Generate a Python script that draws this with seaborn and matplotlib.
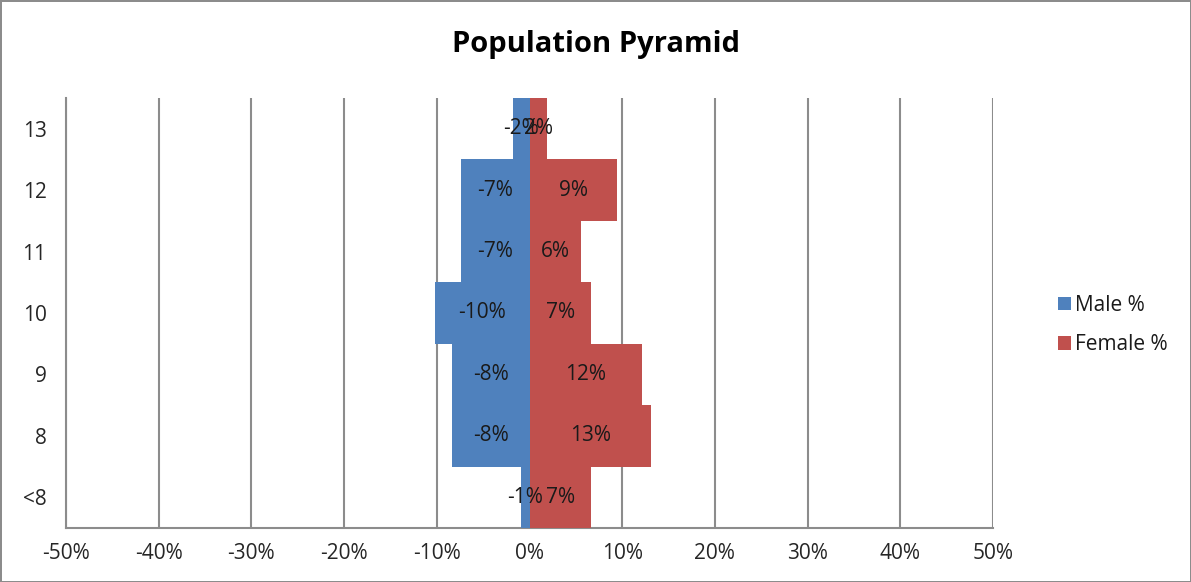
import pandas as pd
import matplotlib.pyplot as plt
import seaborn as sns

# data (percent of population)
grades = ['13', '12', '11', '10', '9', '8', '<8']
male_pct = [-1.8, -7.4, -7.4, -10.2, -8.4, -8.4, -0.9]
female_pct = [1.9, 9.4, 5.6, 6.6, 12.1, 13.1, 6.6]
series = ['Male %', 'Female %']
colors = ['#4F81BD', '#C0504D']
x_ticks = list(range(-50, 51, 10))

df = pd.DataFrame({
    'Grade': grades * 2,
    'Pct': male_pct + female_pct,
    'Series': [series[0]] * len(grades) + [series[1]] * len(grades),
})

sns.set_style('white')
plt.rcParams['font.family'] = ['Open Sans', 'DejaVu Sans']
plt.rcParams['text.color'] = '#1a1a1a'
fs = 15

fig = plt.figure(figsize=(11.91, 5.82), dpi=100, edgecolor='#8c8c8c', linewidth=2)
ax = fig.add_axes([0.0554, 0.0928, 0.7784, 0.7388])

sns.barplot(data=df, y='Grade', x='Pct', hue='Series', order=grades,
            hue_order=series, palette=colors, dodge=False, width=1.0,
            orient='h', saturation=1, linewidth=0, ax=ax, zorder=3)

# value labels in the middle of each bar, like the spreadsheet chart
for cont in ax.containers:
    ax.bar_label(cont, fmt='{:.0f}%', label_type='center', fontsize=fs)

ax.set_xlim(-50, 50)
ax.set_ylim(6.5, -0.5)
ax.set_xticks(x_ticks)
ax.set_xticklabels([f'{t}%' for t in x_ticks])
ax.set_yticks(range(len(grades)))
ax.set_yticklabels(grades)
ax.set_yticks([i - 0.5 for i in range(len(grades) + 1)], minor=True)
ax.tick_params(axis='y', which='major', length=0, pad=14, labelsize=fs)
ax.tick_params(axis='y', which='minor', length=6, width=1.5, color='#8c8c8c', direction='out')
ax.tick_params(axis='x', which='major', length=6, width=1.5, color='#8c8c8c',
               direction='out', labelsize=fs, pad=5)
ax.set_xlabel('')
ax.set_ylabel('')

ax.grid(axis='x', color='#8c8c8c', linewidth=1.5, zorder=0)
ax.set_axisbelow(True)
for side in ['top', 'right']:
    ax.spines[side].set_visible(False)
for side in ['left', 'bottom']:
    ax.spines[side].set_color('#8c8c8c')
    ax.spines[side].set_linewidth(1.5)

fig.suptitle('Population Pyramid', x=0.5, y=0.948, fontsize=21, fontweight='bold', color='black')

ax.legend(loc='center left', bbox_to_anchor=(1.05, 0.472), frameon=False,
          handlelength=0.6, handleheight=0.6, handletextpad=0.2,
          labelspacing=0.9, fontsize=fs)

fig.savefig('out.png', dpi=100, edgecolor=fig.get_edgecolor())
